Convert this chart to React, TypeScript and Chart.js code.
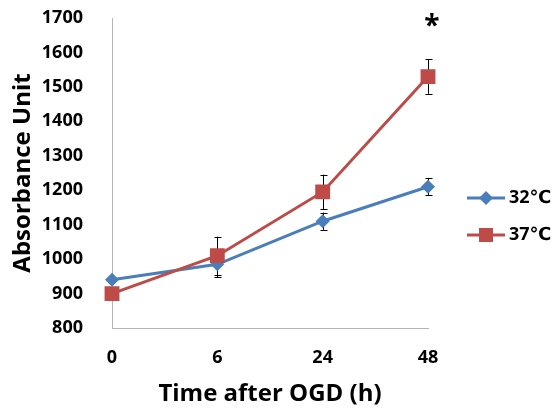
import React, { useEffect, useRef } from "react";
import { Chart, registerables } from "chart.js";

Chart.register(...registerables);

const categories = ["0", "6", "24", "48"];
const series32 = [940, 985, 1110, 1210];
const series37 = [900, 1010, 1195, 1530];
const err32 = [0, 38, 25, 25];
const err37 = [0, 55, 50, 50];
const seriesNames = ["32℃", "37℃"];
const yTicks = [800, 900, 1000, 1100, 1200, 1300, 1400, 1500, 1600, 1700];
const starIndex = 3;
const starValue = 1690;

const BLUE = "#4a7ebb";
const RED = "#be4b48";
const FONT = "'Open Sans', 'DejaVu Sans', sans-serif";

const errorBarPlugin = {
  id: "errorBars",
  beforeDatasetsDraw(chart: any) {
    const ctx = chart.ctx;
    const x = chart.scales.x;
    const y = chart.scales.y;
    const errs = [err32, err37];
    ctx.save();
    ctx.strokeStyle = "#000";
    ctx.lineWidth = 1;
    chart.data.datasets.forEach((ds: any, di: number) => {
      ds.data.forEach((v: number, i: number) => {
        const e = errs[di][i];
        if (!e) return;
        const px = Math.round(x.getPixelForValue(i)) + 0.5;
        const top = y.getPixelForValue(v + e);
        const bot = y.getPixelForValue(v - e);
        ctx.beginPath();
        ctx.moveTo(px, top);
        ctx.lineTo(px, bot);
        ctx.moveTo(px - 3, Math.round(top) + 0.5);
        ctx.lineTo(px + 4, Math.round(top) + 0.5);
        ctx.moveTo(px - 3, Math.round(bot) + 0.5);
        ctx.lineTo(px + 4, Math.round(bot) + 0.5);
        ctx.stroke();
      });
    });
    ctx.restore();
  },
  afterDraw(chart: any) {
    const ctx = chart.ctx;
    const x = chart.scales.x;
    const y = chart.scales.y;
    ctx.save();
    ctx.fillStyle = "#000";
    ctx.font = `bold 28px ${FONT}`;
    ctx.textAlign = "center";
    ctx.textBaseline = "middle";
    ctx.fillText("*", x.getPixelForValue(starIndex) + 4, y.getPixelForValue(starValue) + 6);
    const colors = [BLUE, RED];
    const styles = ["rectRot", "rect"];
    const lx0 = 467;
    const lx1 = 505;
    const ys = [198, 235];
    seriesNames.forEach((name, i) => {
      const ly = ys[i];
      ctx.strokeStyle = colors[i];
      ctx.lineWidth = 3;
      ctx.beginPath();
      ctx.moveTo(lx0, ly);
      ctx.lineTo(lx1, ly);
      ctx.stroke();
      ctx.fillStyle = colors[i];
      const cx = (lx0 + lx1) / 2;
      if (styles[i] === "rect") {
        const s = 7;
        ctx.fillRect(cx - s, ly - s, 2 * s, 2 * s);
      } else {
        const r = 7;
        ctx.beginPath();
        ctx.moveTo(cx, ly - r);
        ctx.lineTo(cx + r, ly);
        ctx.lineTo(cx, ly + r);
        ctx.lineTo(cx - r, ly);
        ctx.closePath();
        ctx.fill();
      }
      ctx.fillStyle = "#000";
      ctx.font = `bold 18px ${FONT}`;
      ctx.textAlign = "left";
      ctx.textBaseline = "middle";
      ctx.fillText(name, 509, ly);
    });
    ctx.restore();
  },
};

export default function App() {
  const ref = useRef<HTMLCanvasElement | null>(null);
  useEffect(() => {
    if (!ref.current) return;
    const chart = new Chart(ref.current, {
      type: "line",
      data: {
        labels: categories,
        datasets: [
          {
            label: seriesNames[0],
            data: series32,
            borderColor: BLUE,
            backgroundColor: BLUE,
            borderWidth: 3,
            pointStyle: "rectRot",
            pointRadius: 7,
            pointBorderWidth: 0,
            pointBackgroundColor: BLUE,
            order: 1,
          },
          {
            label: seriesNames[1],
            data: series37,
            borderColor: RED,
            backgroundColor: RED,
            borderWidth: 3,
            pointStyle: "rect",
            pointRadius: 10.5,
            pointBorderWidth: 0,
            pointBackgroundColor: RED,
            order: 0,
          },
        ],
      },
      options: {
        animation: false,
        responsive: true,
        maintainAspectRatio: false,
        layout: { autoPadding: false, padding: { left: 0, top: 18, right: 126, bottom: 0 } },
        plugins: {
          legend: { display: false },
          tooltip: { enabled: false },
        },
        scales: {
          x: {
            type: "category",
            offset: false,
            grid: { display: false },
            border: { display: true, color: "#b4b4b4", width: 1 },
            ticks: {
              color: "#000",
              font: { family: FONT, size: 18, weight: "bold" },
              padding: 11,
            },
            title: {
              display: true,
              text: "Time after OGD (h)",
              color: "#000",
              font: { family: FONT, size: 24, weight: "bold" },
              padding: { top: 0, bottom: 1 },
            },
            afterFit(scale: any) {
              scale.height = 82;
              scale.paddingLeft = 0;
              scale.paddingRight = 0;
            },
          },
          y: {
            min: 800,
            max: 1700,
            grid: { display: false },
            border: { display: true, color: "#b4b4b4", width: 1 },
            afterBuildTicks(scale: any) {
              scale.ticks = yTicks.map((v) => ({ value: v }));
            },
            ticks: {
              color: "#000",
              font: { family: FONT, size: 18, weight: "bold" },
              padding: 21,
              callback: (v: any) => String(v),
            },
            title: {
              display: true,
              text: "Absorbance Unit",
              color: "#000",
              font: { family: FONT, size: 24, weight: "bold" },
              padding: { top: 9, bottom: 0 },
            },
            afterFit(scale: any) {
              scale.width = 112;
              scale.paddingTop = 0;
              scale.paddingBottom = 0;
            },
          },
        },
      },
      plugins: [errorBarPlugin],
    });
    return () => chart.destroy();
  }, []);
  return (
    <div style={{ position: "absolute", left: 0, top: 0, width: 554, height: 410, background: "#fff" }}>
      <canvas ref={ref} />
    </div>
  );
}
